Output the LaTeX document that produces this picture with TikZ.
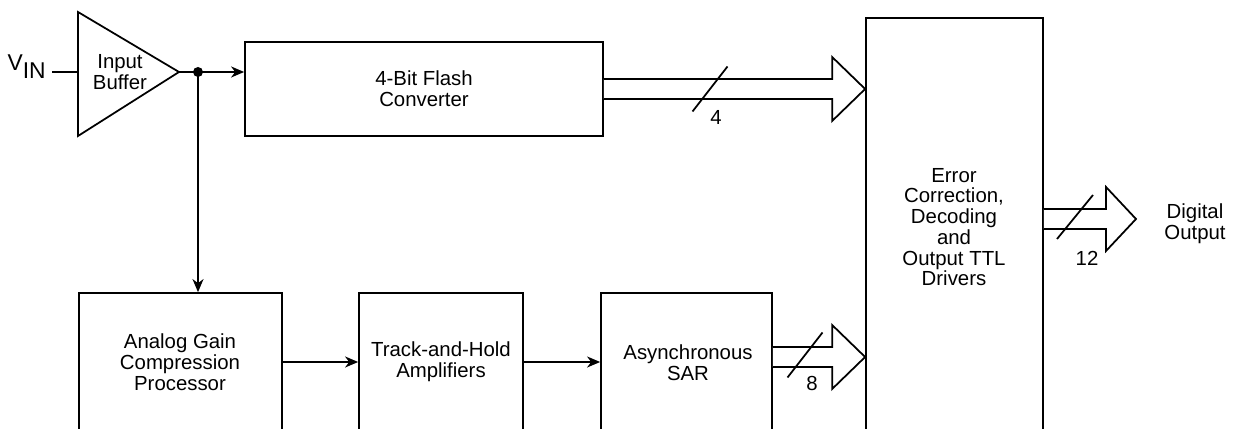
\documentclass[tikz,border=0pt]{standalone}
\usepackage{fontspec}
\setmainfont{Liberation Sans}
\usetikzlibrary{arrows.meta,fit,calc}

\tikzset{
  blk/.style={draw, line width=1pt, inner sep=0pt},
  lbl/.style={align=center, inner sep=0pt, font=\fontsize{11.6}{11.8}\selectfont},
  wire/.style={line width=1pt},
  sig/.style={wire, -{Stealth[length=2.6mm,width=2.2mm,inset=0.8mm]}},
  busline/.style={wire, fill=white, line join=miter},
}

% open bus arrow: #1 start, #2 tip, #3 head length
\newcommand{\databus}[3]{%
  \draw[busline] ($(#1)+(0,10)$) -- ($(#2)+(-#3,10)$) -- ($(#2)+(-#3,32)$) -- (#2)
    -- ($(#2)+(-#3,-32)$) -- ($(#2)+(-#3,-10)$) -- ($(#1)+(0,-10)$);}

\begin{document}
\begin{tikzpicture}[x=0.02cm, y=0.02cm]
  \useasboundingbox (0,0) rectangle (1237,429);
  \clip (0,0) rectangle (1237,429);

  % input buffer
  \coordinate (bufin) at (78,357);
  \coordinate (bufout) at (179,357);
  \draw[wire, line join=miter] (78,417) -- (bufout) -- (78,293) -- cycle;
  \node[lbl] (buftxt) at (120,357) {Input\\Buffer};
  \node[anchor=base east, inner sep=0pt, font=\fontsize{13}{15}\selectfont] (vin) at (46,358) {V\raisebox{-4.5pt}{IN}};
  \draw[wire] (bufin) -- ++(-26,0);
  \coordinate (jn) at (198,357);
  \fill (jn) circle (0.1cm);

  % blocks
  \node[blk, fit={(245,293) (603,387)}] (flash) {};
  \node[lbl] (flashtxt) at (flash.center) {4-Bit Flash\\Converter};
  \node[blk, fit={(79,-20) (282,136)}] (agc) {};
  \node[lbl] (agctxt) at (180,67) {Analog Gain\\Compression\\Processor};
  \node[blk, fit={(359,-20) (523,136)}] (th) {};
  \node[lbl] (thtxt) at (441,67) {Track-and-Hold\\Amplifiers};
  \node[blk, fit={(601,-20) (772,136)}] (sar) {};
  \node[lbl] (sartxt) at (688,66) {Asynchronous\\SAR};
  \node[blk, fit={(866,-20) (1043,411)}] (big) {};
  \node[lbl] (bigtxt) at (954,202) {Error\\Correction,\\Decoding\\and\\Output TTL\\Drivers};
  \node[lbl] (dout) at (1195,205) {Digital\\Output};

  % analog signal path
  \draw[wire] (bufout) -- (jn);
  \draw[sig] (jn) -- (flash.west |- jn);
  \draw[sig] (jn) -- (jn |- agc.north);
  \draw[sig] (agc.east |- agctxt) -- (th.west |- agctxt);
  \draw[sig] (th.east |- thtxt) -- (sar.west |- thtxt);

  % digital buses
  \coordinate (fbs) at (flash.east);
  \coordinate (fbt) at (big.west |- flash.east);
  \coordinate (sbs) at (sar.east |- 0,72);
  \coordinate (sbt) at (big.west |- 0,72);
  \coordinate (obs) at (big.east |- 0,210);
  \coordinate (obt) at (1136,210);
  \databus{fbs}{fbt}{33}
  \databus{sbs}{sbt}{33}
  \databus{obs}{obt}{30}

  % bus widths
  \draw[wire] (710,340) +(-17.5,-22.5) -- +(17.5,22.5);
  \node[lbl] (w4) at (716,312) {4};
  \draw[wire] (805,74) +(-17.5,-22.5) -- +(17.5,22.5);
  \node[lbl] (w8) at (812,46) {8};
  \draw[wire] (1075,212) +(-18,-22) -- +(18,22);
  \node[lbl] (w12) at (1087,171) {12};
\end{tikzpicture}
\end{document}
